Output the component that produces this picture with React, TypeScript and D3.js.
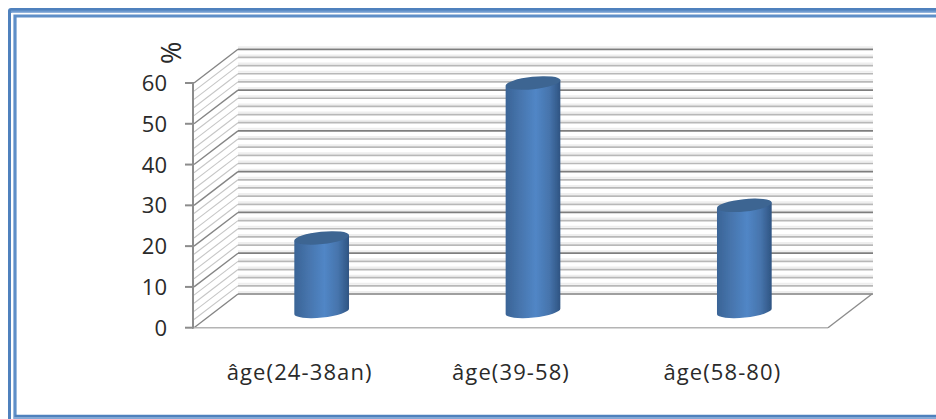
import React from "react";
import * as d3 from "d3";

const categories = ["âge(24-38an)", "âge(39-58)", "âge(58-80)"];
const values = [18, 56, 26];
const yTicks = [0, 10, 20, 30, 40, 50, 60];
const minorTicks = d3.range(0, 61, 2);

const W = 936, H = 419;
const dx = 44, dy = -33.7;
const y = d3.scaleLinear().domain([0, 60]).range([327.7, 83]);
const x = d3.scaleBand().domain(categories).range([194, 828]);
const RX = 27.5, RY = 6.2, TILT = -6;
const TX = RX * Math.cos((TILT * Math.PI) / 180);
const TY = RX * Math.sin((TILT * Math.PI) / 180);
const FONT = "'Open Sans', sans-serif";

export default function App() {
  return (
    <svg width={W} height={H} style={{ position: "absolute", left: 0, top: 0, background: "#fff" }}>
      <defs>
        <linearGradient id="cyl" x1="0" x2="1" y1="0" y2="0">
          <stop offset="0" stopColor="#3a6496" />
          <stop offset="0.25" stopColor="#4674ac" />
          <stop offset="0.55" stopColor="#5186c6" />
          <stop offset="0.8" stopColor="#4674ac" />
          <stop offset="1" stopColor="#2f5482" />
        </linearGradient>
        <filter id="soft" x="-5%" y="-5%" width="110%" height="110%">
          <feGaussianBlur stdDeviation="0.4" />
        </filter>
      </defs>

      {/* Frame */}
      <g fill="none">
        <path d={`M${W + 5} 9.5 H11 Q9.5 9.5 9.5 11 V${H + 5}`} stroke="#4f81bd" strokeWidth={3} />
        <path d={`M${W + 5} 11.8 H12 V13`} stroke="#6f9bd0" strokeWidth={2.4} />
        <path d={`M${W + 5} 13.6 H12.5 V${H + 5}`} stroke="#ffffff" strokeWidth={1.6} />
        <path d={`M${W + 5} 16 H15 V${H + 5}`} stroke="#5f8fc8" strokeWidth={3.2} />
        <path d={`M${W + 5} 416 H15`} stroke="#4f81bd" strokeWidth={2.4} />
        <path d={`M${W + 5} 418 H14`} stroke="#85a9d6" strokeWidth={2} />
      </g>

      <g filter="url(#soft)">
        {/* Side wall */}
        {minorTicks.map((t) => (
          <line key={"s" + t} x1={194} y1={y(t)} x2={194 + dx} y2={y(t) + dy}
            stroke={t % 10 === 0 ? "#858585" : "#c6c6c6"} strokeWidth={t % 10 === 0 ? 1.4 : 1.1} />
        ))}
        {/* Back wall */}
        {minorTicks.map((t) => (
          <g key={"b" + t}>
            <line x1={194 + dx} y1={y(t) + dy - 2} x2={828 + dx + 1} y2={y(t) + dy - 2}
              stroke="#eeeeee" strokeWidth={2} />
            <line x1={194 + dx} y1={y(t) + dy} x2={828 + dx + 1} y2={y(t) + dy}
              stroke={t % 10 === 0 ? "#7e7e7e" : "#b8b8b8"} strokeWidth={t % 10 === 0 ? 1.7 : 1.7} />
          </g>
        ))}
        {/* Floor */}
        <path d={`M194 ${y(0)} H828`} fill="none" stroke="#b4b4b4" strokeWidth={1.5} />
        <path d={`M828 ${y(0)} L${828 + dx} ${y(0) + dy}`} fill="none" stroke="#8c8c8c" strokeWidth={1.4} />
        {/* Value axis */}
        <line x1={193} y1={y(0) + 1} x2={193} y2={y(60) - 1} stroke="#8c8c8c" strokeWidth={2} />
        {yTicks.map((t) => (
          <line key={"t" + t} x1={185} y1={y(t)} x2={193} y2={y(t)} stroke="#8c8c8c" strokeWidth={2} />
        ))}
        {/* Cylinders */}
        {categories.map((c, i) => {
          const cx = x(c)! + x.bandwidth() / 2 + dx / 2;
          const yb = y(0) + dy / 2 + 0.5;
          const yt = y(values[i]) + dy / 2 + 0.5;
          const body = `M${cx - TX} ${yt - TY} L${cx - TX} ${yb - TY} A${RX} ${RY} ${TILT} 0 0 ${cx + TX} ${yb + TY} L${cx + TX} ${yt + TY} Z`;
          return (
            <g key={c}>
              <path d={body} fill="url(#cyl)" />
              <ellipse cx={0} cy={0} rx={RX} ry={RY} fill="#3c6592" transform={`translate(${cx} ${yt}) rotate(${TILT})`} />
            </g>
          );
        })}
      </g>

      {/* Text */}
      <g fontFamily={FONT} fill="#2a2a2a">
        {yTicks.map((t) => (
          <text key={t} x={167} y={y(t) + 8} fontSize={22} textAnchor="end">{t}</text>
        ))}
        <text transform="translate(181 64) rotate(-90)" fontSize={27}>%</text>
        {categories.map((c) => (
          <text key={c} x={x(c)! + x.bandwidth() / 2} y={380} fontSize={22} letterSpacing={1.1} textAnchor="middle">{c}</text>
        ))}
      </g>
    </svg>
  );
}
